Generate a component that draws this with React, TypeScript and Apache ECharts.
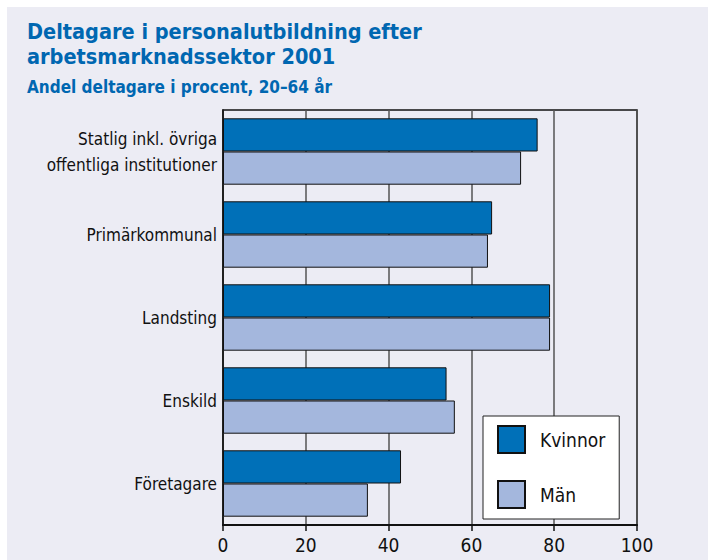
import React, { useEffect, useRef } from "react";
import * as echarts from "echarts";

const categories = [
  "Statlig inkl. övriga\noffentliga institutioner",
  "Primärkommunal",
  "Landsting",
  "Enskild",
  "Företagare",
];
const kvinnor = [76, 65, 79, 54, 43];
const man = [72, 64, 79, 56, 35];
const xTicks = [0, 20, 40, 60, 80, 100];

const FONT = "'DejaVu Sans Condensed', 'Liberation Sans Narrow', sans-serif";
const BLUE = "#0070b8";
const LIGHT = "#a4b7dd";
const BG = "#ececf4";

export default function App() {
  const ref = useRef<HTMLDivElement>(null);
  useEffect(() => {
    if (!ref.current) return;
    const chart = echarts.init(ref.current, undefined, { renderer: "svg" });
    chart.setOption({
      animation: false,
      backgroundColor: "#ffffff",
      textStyle: { fontFamily: FONT },
      graphic: [
        { type: "rect", shape: { x: 7, y: 7, width: 701, height: 553 }, style: { fill: BG }, z: -10 },
        {
          type: "text", left: 27, top: 20,
          style: {
            text: "Deltagare i personalutbildning efter",
            fill: "#0067b1", font: `bold 21.5px ${FONT}`,
          },
        },
        {
          type: "text", left: 27, top: 45,
          style: {
            text: "arbetsmarknadssektor 2001",
            fill: "#0067b1", font: `bold 21.5px ${FONT}`,
          },
        },
        {
          type: "text", left: 27, top: 78,
          style: { text: "Andel deltagare i procent, 20–64 år", fill: "#0067b1", font: `bold 17px ${FONT}` },
        },
      ],
      grid: {
        left: 223, right: 71, top: 110, bottom: 35,
        show: true, borderColor: "#111", borderWidth: 1.5, backgroundColor: "transparent",
      },
      legend: {
        left: 483, top: 416, orient: "vertical",
        backgroundColor: "#ffffff", borderColor: "#222", borderWidth: 1,
        padding: [9, 14, 10, 14], itemGap: 26, itemWidth: 27, itemHeight: 27,
        icon: "rect",
        textStyle: { fontFamily: FONT, fontSize: 19, color: "#111", padding: [0, 0, 0, 10] },
        data: ["Kvinnor", "Män"],
      },
      xAxis: {
        type: "value", min: 0, max: 100, interval: 20,
        axisLine: { show: true, lineStyle: { color: "#111", width: 2 } },
        axisTick: { show: true, length: 6, lineStyle: { color: "#111", width: 1.5 } },
        axisLabel: {
          color: "#111", fontSize: 19, fontFamily: FONT, margin: 10,
          formatter: (v: number) => (xTicks.includes(v) ? String(v) : ""),
        },
        splitLine: { show: true, lineStyle: { color: "#555", width: 1.5 } },
      },
      yAxis: {
        type: "category", data: categories, inverse: true,
        axisLine: { show: true, lineStyle: { color: "#111", width: 1.5 } },
        axisTick: { show: false },
        axisLabel: { color: "#111", fontSize: 17, fontFamily: FONT, margin: 6, lineHeight: 26, align: "right" },
      },
      series: [
        {
          name: "Kvinnor", type: "bar", data: kvinnor, barGap: "0%", barCategoryGap: "20%",
          itemStyle: { color: BLUE, borderColor: "#111", borderWidth: 1 },
        },
        {
          name: "Män", type: "bar", data: man,
          itemStyle: { color: LIGHT, borderColor: "#111", borderWidth: 1 },
        },
      ],
    });
    return () => chart.dispose();
  }, []);
  return (
    <div
      ref={ref}
      style={{ position: "fixed", left: 0, top: 0, width: 708, height: 560 }}
    />
  );
}
